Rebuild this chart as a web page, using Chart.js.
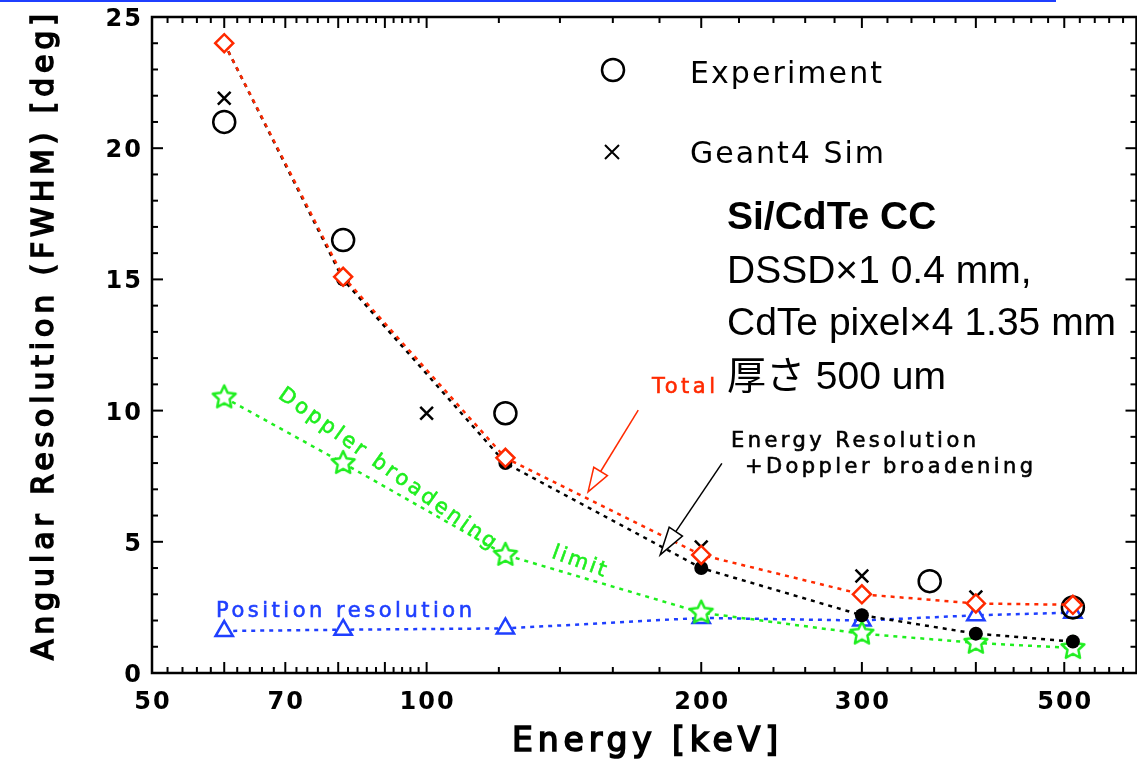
<!DOCTYPE html>
<html>
<head>
<meta charset="utf-8">
<script src="https://cdn.jsdelivr.net/npm/chart.js@4"></script>
<style>
  html, body { margin: 0; padding: 0; background: #fff; overflow: hidden; }
  /* canvas is a bit wider than the window: Chart.js keeps room for the point
     radius on the right, this pushes the frame to the window edge */
  #wrap { width: 1150px; height: 763px; }
  canvas { display: block; }
</style>
</head>
<body>
<div id="wrap"><canvas id="chart" width="1150" height="763"></canvas></div>
<script>
// energies of the computed curves [keV]
const energies = [60, 81, 122, 200, 300, 400, 511];
const totalFwhm = [24.0, 15.1, 8.2, 4.5, 3.0, 2.65, 2.6];      // red, Total
const erDopplerFwhm = [24.0, 15.0, 8.0, 4.0, 2.2, 1.5, 1.2];   // black, energy res + doppler
const dopplerFwhm = [10.5, 8.0, 4.5, 2.3, 1.5, 1.15, 0.95];    // green, doppler limit
const positionFwhm = [1.6, 1.65, 1.7, 2.1, 2.0, 2.2, 2.3];     // blue, position resolution

const expEnergies = [60, 81, 122, 356, 511];
const expFwhm = [21.0, 16.5, 9.9, 3.5, 2.5];
const simEnergies = [60, 100, 200, 300, 400];
const simFwhm = [21.9, 9.9, 4.8, 3.7, 2.9];

const xTickLabels = [50, 70, 100, 200, 300, 500];
const yTickLabels = [0, 5, 10, 15, 20, 25];

const RED = '#ff2a00', GREEN = '#1fee1f', BLUE = '#1f3fff';
const HERSHEY = '"DejaVu Sans"';
const HELV = '"Liberation Sans", "Noto Sans CJK JP"';

const pts = (xs, ys) => xs.map((x, i) => ({x: x, y: ys[i]}));

function makeStar(r, color) {
    const c = document.createElement('canvas');
    const s = Math.ceil(r * 2 + 6);
    c.width = s; c.height = s;
    const g = c.getContext('2d');
    g.translate(s / 2, s / 2);
    g.beginPath();
    for (let i = 0; i < 10; i++) {
        const rad = i % 2 ? r * 0.48 : r;
        const a = -Math.PI / 2 + i * Math.PI / 5;
        g.lineTo(rad * Math.cos(a), rad * Math.sin(a));
    }
    g.closePath();
    g.fillStyle = '#fff';
    g.fill();
    g.lineWidth = 2.5;
    g.lineJoin = 'round';
    g.strokeStyle = color;
    g.stroke();
    return c;
}

// text squeezed / stretched to a given width (stroke font look), optional outline to thicken
function spacedText(ctx, text, x, y, width, align, thick) {
    ctx.letterSpacing = '0px';
    const raw = ctx.measureText(text).width;
    const gap = text.length > 1 ? (width - raw) / (text.length - 1) : 0;
    ctx.letterSpacing = gap + 'px';
    ctx.textAlign = 'left';
    const start = align === 'center' ? x - width / 2 : x;
    ctx.fillText(text, start, y);
    if (thick) {
        ctx.lineWidth = thick;
        ctx.strokeStyle = ctx.fillStyle;
        ctx.strokeText(text, start, y);
    }
    ctx.letterSpacing = '0px';
}

function arrow(ctx, x0, y0, x1, y1, color, headLen, headW) {
    const ang = Math.atan2(y1 - y0, x1 - x0);
    const bx = x1 - headLen * Math.cos(ang), by = y1 - headLen * Math.sin(ang);
    ctx.save();
    ctx.strokeStyle = color;
    ctx.lineWidth = 1.5;
    ctx.beginPath();
    ctx.moveTo(x0, y0);
    ctx.lineTo(bx, by);
    ctx.stroke();
    ctx.beginPath();
    ctx.moveTo(x1, y1);
    ctx.lineTo(bx + headW * Math.sin(ang), by - headW * Math.cos(ang));
    ctx.lineTo(bx - headW * Math.sin(ang), by + headW * Math.cos(ang));
    ctx.closePath();
    ctx.fillStyle = '#fff';
    ctx.fill();
    ctx.stroke();
    ctx.restore();
}

// box, inward ticks on all four sides, tick labels
const framePlugin = {
    id: 'frame',
    beforeDatasetsDraw(chart) {
        const {ctx, chartArea: a, scales} = chart;
        const x = scales.x, y = scales.y;
        ctx.save();
        ctx.strokeStyle = '#000';
        ctx.lineCap = 'butt';
        ctx.lineWidth = 2.5;
        ctx.strokeRect(a.left, a.top, a.right - a.left, a.bottom - a.top);
        ctx.lineWidth = 2;
        const seg = (x0, y0, x1, y1) => { ctx.beginPath(); ctx.moveTo(x0, y0); ctx.lineTo(x1, y1); ctx.stroke(); };

        const xMajor = [60, 70, 80, 90, 100, 200, 300, 400, 500];
        for (let v = 52; v < 600; v += (v < 100 ? 2 : 20)) {
            const px = x.getPixelForValue(v);
            if (px >= a.right - 1) continue;
            const len = xMajor.includes(v) ? 11 : 6;
            seg(px, a.bottom, px, a.bottom - len);
            seg(px, a.top, px, a.top + len);
        }
        for (let v = 1; v < 25; v++) {
            const py = y.getPixelForValue(v);
            const len = v % 5 === 0 ? 11 : 6;
            seg(a.left, py, a.left + len, py);
            seg(a.right, py, a.right - len, py);
        }

        ctx.fillStyle = '#000';
        ctx.font = 'bold 24px ' + HERSHEY;
        ctx.textBaseline = 'alphabetic';
        ctx.letterSpacing = '2px';
        ctx.textAlign = 'center';
        xTickLabels.forEach(v => ctx.fillText(String(v), x.getPixelForValue(v) + 1, 709));
        ctx.textAlign = 'right';
        yTickLabels.forEach(v => ctx.fillText(String(v), a.left - 9, y.getPixelForValue(v) + 9));
        ctx.letterSpacing = '0px';
        ctx.restore();
    }
};

const notesPlugin = {
    id: 'notes',
    afterDraw(chart) {
        const {ctx, scales} = chart;
        const x = scales.x, y = scales.y;
        ctx.save();

        // slide rule line at the very top
        ctx.strokeStyle = BLUE;
        ctx.lineWidth = 2;
        ctx.beginPath(); ctx.moveTo(0, 1); ctx.lineTo(1056, 1); ctx.stroke();

        // legend
        ctx.strokeStyle = '#000';
        ctx.lineWidth = 2.5;
        ctx.beginPath(); ctx.arc(613, 70, 11, 0, Math.PI * 2); ctx.stroke();
        ctx.lineWidth = 2;
        ctx.beginPath();
        ctx.moveTo(605, 145); ctx.lineTo(619, 159);
        ctx.moveTo(619, 145); ctx.lineTo(605, 159);
        ctx.stroke();

        ctx.fillStyle = '#000';
        ctx.font = '30px ' + HERSHEY;
        ctx.textBaseline = 'alphabetic';
        spacedText(ctx, 'Experiment', 690, 83, 192);
        spacedText(ctx, 'Geant4 Sim', 690, 163, 194);

        // detector info
        ctx.textAlign = 'left';
        ctx.font = 'bold 39px ' + HELV;
        ctx.fillText('Si/CdTe CC', 727, 229);
        ctx.font = '39px ' + HELV;
        ctx.fillText('DSSD×1 0.4 mm,', 727, 283);
        ctx.fillText('CdTe pixel×4 1.35 mm', 727, 335);
        ctx.fillText('厚さ 500 um', 727, 389);

        // curve labels
        ctx.font = '21px ' + HERSHEY;
        ctx.fillStyle = RED;
        spacedText(ctx, 'Total', 652, 393, 63, 'left', 0.6);
        ctx.fillStyle = '#000';
        spacedText(ctx, 'Energy Resolution', 731, 447, 245, 'left', 0.6);
        spacedText(ctx, '+Doppler broadening', 745, 473, 288, 'left', 0.6);
        ctx.fillStyle = BLUE;
        spacedText(ctx, 'Position resolution', 216, 617, 256, 'left', 0.6);

        ctx.fillStyle = GREEN;
        ctx.textBaseline = 'middle';
        ctx.save();
        ctx.translate(387, 469);
        ctx.rotate(35.5 * Math.PI / 180);
        spacedText(ctx, 'Doppler broadening', 0, 0, 262, 'center', 0.6);
        ctx.restore();
        ctx.save();
        ctx.translate(579, 562);
        ctx.rotate(20 * Math.PI / 180);
        spacedText(ctx, 'limit', 0, 0, 56, 'center', 0.6);
        ctx.restore();

        // arrows, anchored in data units
        arrow(ctx, x.getPixelForValue(170.6), y.getPixelForValue(10.02),
              x.getPixelForValue(150.3), y.getPixelForValue(6.9), RED, 24, 8);
        arrow(ctx, x.getPixelForValue(210.7), y.getPixelForValue(7.99),
              x.getPixelForValue(180.3), y.getPixelForValue(4.5), '#000', 28, 8);

        // axis titles
        ctx.fillStyle = '#000';
        ctx.textBaseline = 'middle';
        ctx.font = '30px ' + HERSHEY;
        ctx.save();
        ctx.translate(45, 337);
        ctx.rotate(-Math.PI / 2);
        spacedText(ctx, 'Angular Resolution (FWHM) [deg]', 0, 0, 646, 'center', 1.6);
        ctx.restore();
        ctx.font = '33px ' + HERSHEY;
        spacedText(ctx, 'Energy [keV]', 645, 742, 266, 'center', 1.6);

        ctx.restore();
    }
};

const starImg = makeStar(12, GREEN);

const ctx = document.getElementById('chart').getContext('2d');
const chart = new Chart(ctx, {
    type: 'scatter',
    data: {
        datasets: [
            {
                label: 'Total',
                data: pts(energies, totalFwhm),
                showLine: true,
                borderColor: RED,
                borderWidth: 2.5,
                borderDash: [4, 5],
                pointStyle: 'rectRot',
                pointRadius: 9,
                pointBorderWidth: 2.5,
                pointBorderColor: RED,
                pointBackgroundColor: '#fff',
                order: 0
            },
            {
                label: 'Experiment',
                data: pts(expEnergies, expFwhm),
                showLine: false,
                pointStyle: 'circle',
                pointRadius: 11,
                pointBorderWidth: 2.5,
                pointBorderColor: '#000',
                pointBackgroundColor: 'rgba(0,0,0,0)',
                order: 1
            },
            {
                label: 'Geant4 Sim',
                data: pts(simEnergies, simFwhm),
                showLine: false,
                pointStyle: 'crossRot',
                pointRadius: 9,
                pointBorderWidth: 2.5,
                pointBorderColor: '#000',
                order: 2
            },
            {
                label: 'Energy Resolution + Doppler broadening',
                data: pts(energies, erDopplerFwhm),
                showLine: true,
                borderColor: '#000',
                borderWidth: 2.5,
                borderDash: [4, 5],
                pointStyle: 'circle',
                pointRadius: [0, 7, 7, 7, 7, 7, 7],
                pointBorderWidth: 0,
                pointBackgroundColor: '#000',
                order: 3
            },
            {
                label: 'Doppler broadening limit',
                data: pts(energies, dopplerFwhm),
                showLine: true,
                borderColor: GREEN,
                borderWidth: 2.5,
                borderDash: [4, 5],
                pointStyle: starImg,
                order: 4
            },
            {
                label: 'Position resolution',
                data: pts(energies, positionFwhm),
                showLine: true,
                borderColor: BLUE,
                borderWidth: 2.5,
                borderDash: [4, 5],
                pointStyle: 'triangle',
                pointRadius: 10,
                pointBorderWidth: 2.5,
                pointBorderColor: BLUE,
                pointBackgroundColor: '#fff',
                order: 5
            }
        ]
    },
    options: {
        responsive: false,
        animation: false,
        devicePixelRatio: 1,
        events: [],
        layout: { padding: { top: 17, right: 0, left: 0, bottom: 0 } },
        plugins: {
            legend: { display: false },
            tooltip: { enabled: false }
        },
        scales: {
            x: {
                type: 'logarithmic',
                min: 50,
                max: 600,
                bounds: 'data',
                grid: { display: false },
                border: { display: false },
                ticks: { display: false },
                afterFit: (axis) => { axis.height = 90; }
            },
            y: {
                min: 0,
                max: 25,
                grid: { display: false },
                border: { display: false },
                ticks: { display: false },
                afterFit: (axis) => { axis.width = 152; }
            }
        }
    },
    plugins: [framePlugin, notesPlugin]
});
</script>
</body>
</html>
